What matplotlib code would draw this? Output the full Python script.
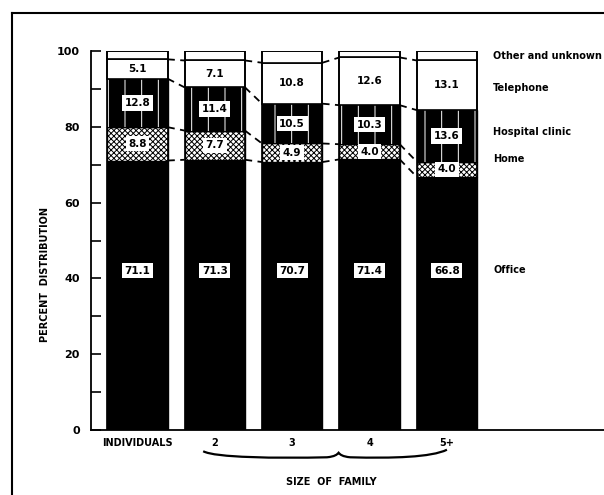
import numpy as np
import matplotlib
matplotlib.use('Agg')
import matplotlib.pyplot as plt
from matplotlib.path import Path
from matplotlib.patches import PathPatch
from matplotlib.lines import Line2D

groups = ['INDIVIDUALS', '2', '3', '4', '5+']
office = [71.1, 71.3, 70.7, 71.4, 66.8]
home = [8.8, 7.7, 4.9, 4.0, 4.0]
hospital = [12.8, 11.4, 10.5, 10.3, 13.6]
telephone = [5.1, 7.1, 10.8, 12.6, 13.1]
other = [100 - sum(v) for v in zip(office, home, hospital, telephone)]
series_names = ['Office', 'Home', 'Hospital clinic', 'Telephone', 'Other and unknown']
name_y = [42.3, 71.4, 78.5, 90.3, 98.7]

plt.rcParams['font.family'] = 'DejaVu Sans'
plt.rcParams['font.weight'] = 'bold'
plt.rcParams['hatch.linewidth'] = 0.7

fig = plt.figure(figsize=(6.04, 4.95), dpi=100)
ax = fig.add_axes([91/604, 1-430/495, 1-91/604, (430-51)/495])

x = np.arange(len(groups))
w = 0.78
series = [office, home, hospital, telephone, other]
bottoms = np.zeros(len(groups))
tops = []
for k, vals in enumerate(series):
    vals = np.array(vals)
    if k == 0:
        ax.bar(x, vals, w, bottom=bottoms, color='black', edgecolor='black', lw=1)
    elif k == 1:
        ax.bar(x, vals, w, bottom=bottoms, color='white', edgecolor='black', lw=1, hatch='xxxxxx')
    elif k == 2:
        ax.bar(x, vals, w, bottom=bottoms, color='black', edgecolor='black', lw=1)
        ax.bar(x, vals, w, bottom=bottoms, fill=False, edgecolor='white', lw=0, hatch='|')
    else:
        ax.bar(x, vals, w, bottom=bottoms, color='white', edgecolor='black', lw=1.2)
    if k < 4:
        for i in range(len(groups)):
            ly = 42 if k == 0 else bottoms[i] + vals[i] / 2
            ax.text(x[i], ly, f'{vals[i]:.1f}', ha='center', va='center', fontsize=7.5,
                    fontweight='bold', zorder=5,
                    bbox=dict(boxstyle='square,pad=0.25', fc='white', ec='none'))
    bottoms = bottoms + vals
    if k < 4:
        tops.append(bottoms.copy())

# dashed connectors between bars
for t in tops:
    for i in range(len(groups) - 1):
        ax.plot([x[i] + w/2, x[i+1] - w/2], [t[i], t[i+1]], color='black', lw=1.3,
                ls=(0, (4, 3)), zorder=4)

# whole-bar outlines
ax.bar(x, 100, w, fill=False, edgecolor='black', lw=1.2, zorder=6)

for name, yy in zip(series_names, name_y):
    ax.text(4.6, yy, name, ha='left', va='center', fontsize=7, fontweight='bold', clip_on=False)

ax.set_xlim(-0.6, 6.03)
ax.set_ylim(0, 100)
ax.set_xticks(x)
ax.set_xticklabels(groups, fontsize=7, fontweight='bold')
ax.tick_params(axis='x', length=0, pad=6)
ax.set_yticks([0, 20, 40, 60, 80, 100])
ax.set_yticks([10, 30, 50, 70, 90], minor=True)
ax.tick_params(axis='y', which='both', direction='in', length=7, width=1.2, labelsize=8, pad=8)
for lab in ax.get_yticklabels():
    lab.set_fontweight('bold')
ax.spines['top'].set_visible(False)
ax.spines['right'].set_visible(False)
ax.spines['left'].set_linewidth(1.3)
ax.spines['bottom'].set_linewidth(1.3)

ax.text(-0.6 - 46/77.3, 41, 'PERCENT  DISTRIBUTION', rotation=90, ha='center', va='center',
        fontsize=7, fontweight='bold', clip_on=False)

# brace under family sizes
verts = [(0.85, -5.6), (1.0, -7.3), (1.8, -7.5), (2.45, -7.2),
         (2.55, -7.0), (2.58, -6.5), (2.6, -6.0),
         (2.62, -6.5), (2.65, -7.0), (2.75, -7.2),
         (3.3, -7.5), (3.8, -7.2), (4.0, -5.2)]
codes = [Path.MOVETO] + [Path.CURVE4] * 12
ax.add_patch(PathPatch(Path(verts, codes), fill=False, lw=1.6, ec='black', clip_on=False))
ax.text(2.5, (430-482)/3.79, 'SIZE  OF  FAMILY', ha='center', va='center', fontsize=7,
        fontweight='bold', clip_on=False)

# frame around figure
fig.add_artist(Line2D([12/604, 1], [1-13/495, 1-13/495], color='black', lw=1.5))
fig.add_artist(Line2D([12/604, 12/604], [0, 1-13/495], color='black', lw=1.5))

fig.savefig('out.png', dpi=100)
